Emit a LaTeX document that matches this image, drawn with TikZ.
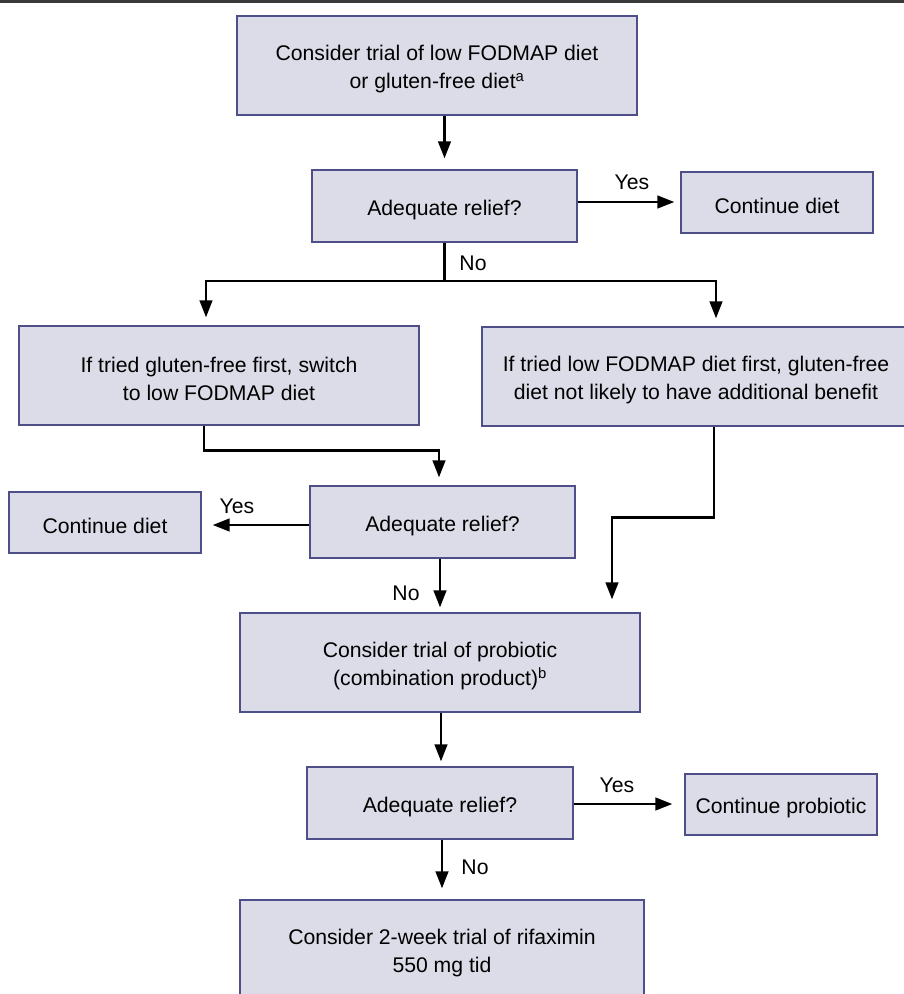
\documentclass[tikz,border=0pt]{standalone}
\usepackage{fontspec}
\setmainfont{Liberation Sans}
\usetikzlibrary{arrows.meta}
\definecolor{boxfill}{HTML}{DCDCE8}
\definecolor{boxline}{HTML}{4E4E88}
\definecolor{topline}{HTML}{3A3A3A}
\newcommand{\tstrut}{\rule{0pt}{23pt}}
\begin{document}
\begin{tikzpicture}[x=1pt,y=-1pt,
  box/.style={draw=boxline, fill=boxfill, line width=1.2pt, align=center, inner sep=0pt,
              font=\fontsize{21.2}{28}\selectfont, text=black},
  wide/.style={minimum width=400pt, minimum height=99pt},
  ask/.style={minimum width=265pt, minimum height=72pt},
  small/.style={minimum width=192pt, minimum height=61pt},
  arr/.style={-{Triangle[length=17pt,width=12.5pt]}, line width=2.7pt, line join=miter},
  lbl/.style={font=\fontsize{21.2}{28}\selectfont, inner sep=0pt}]
\useasboundingbox (0,0) rectangle (904,994);
\clip (0,0) rectangle (904,994);
\draw[topline, line width=3pt] (0,1) -- (904,1);

\node[box, wide] (b1) at (437,65.5) {\tstrut Consider trial of low FODMAP diet\\or gluten-free diet\textsuperscript{a}};
\node[box, ask] (b2) at (444.5,206) {\tstrut Adequate relief?};
\node[box, small] (cd1) at (777,202.5) {\tstrut Continue diet};
\node[box, wide] (bl) at (219,375.5) {\tstrut If tried gluten-free first, switch\\to low FODMAP diet};
\node[box, wide, minimum width=428pt] (br) at (696,376.5) {\tstrut If tried low FODMAP diet first, gluten-free\\diet not likely to have additional benefit};
\node[box, ask] (am) at (442.5,522) {\tstrut Adequate relief?};
\node[box, small] (cd2) at (105,522.5) {\tstrut Continue diet};
\node[box, wide] (pb) at (440,662.5) {\tstrut Consider trial of probiotic\\(combination product)\textsuperscript{b}};
\node[box, ask, minimum width=266pt] (a3) at (440,803) {\tstrut Adequate relief?};
\node[box, small] (cp) at (781,804.5) {\tstrut Continue probiotic};
\node[box, wide, minimum width=404pt] (fin) at (442,949.5) {\tstrut Consider 2-week trial of rifaximin\\550 mg tid};

% connectors
\draw[arr, shorten >=11pt] (b1.south -| b2.north) -- (b2.north);
\draw[arr, shorten >=6pt] ([yshift=4pt]b2.east) -- ([yshift=4pt]b2.east -| cd1.west);
\node[lbl] (yes1) at (632,182) {Yes};

\coordinate (j1) at (444.5,281);
\draw[line width=2.7pt] (b2.south) -- (j1);
\draw[arr, shorten >=8pt] (j1) -| ([xshift=-13pt]bl.north);
\draw[arr, shorten >=8pt] (j1) -| ([xshift=20pt]br.north);
\node[lbl] (no1) at (473,263) {No};

\draw[arr, shorten >=8pt] ([xshift=-15pt]bl.south) -- ++(0,25) -| ([xshift=-3.5pt]am.north);
\draw[arr, shorten >=11pt] ([yshift=-3pt]am.west) -- ([yshift=-3pt]am.west -| cd2.east);
\node[lbl] (yes2) at (237,506) {Yes};
\draw[arr, shorten >=5pt] ([xshift=-2.5pt]am.south) -- ([xshift=-2.5pt]am.south |- pb.north);
\node[lbl] (no2) at (406,593) {No};

\draw[arr, shorten >=13pt] ([xshift=18pt]br.south) -- ++(0,91) -| ([xshift=172pt]pb.north);

\draw[arr, shorten >=5pt] ([xshift=1pt]pb.south) -- ([xshift=1pt]pb.south |- a3.north);
\draw[arr, shorten >=12pt] ([yshift=-1pt]a3.east) -- ([yshift=-1pt]a3.east -| cp.west);
\node[lbl] (yes3) at (617,785) {Yes};
\draw[arr, shorten >=11pt] ([xshift=2pt]a3.south) -- ([xshift=2pt]a3.south |- fin.north);
\node[lbl] (no3) at (475,867) {No};
\end{tikzpicture}
\end{document}
